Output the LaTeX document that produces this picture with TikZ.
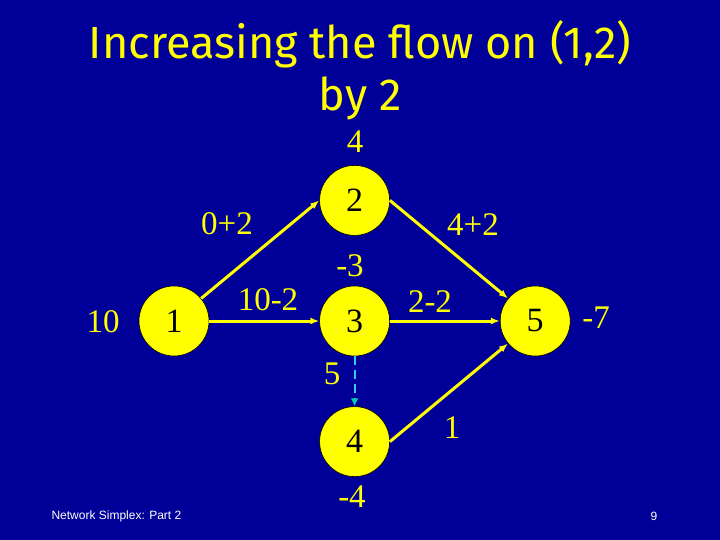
\documentclass[tikz,border=0pt]{standalone}
\usepackage{fontspec}
\setmainfont{Liberation Serif}
\newfontfamily\titlefont{Fira Sans}
\newfontfamily\footfont{Liberation Sans}
\usetikzlibrary{arrows.meta, positioning}
\definecolor{slideblue}{RGB}{0, 0, 153}
\definecolor{nodeyellow}{RGB}{255, 255, 0}
\definecolor{dashcyan}{RGB}{51, 204, 255}
\definecolor{tipteal}{RGB}{0, 204, 170}

\begin{document}
\begin{tikzpicture}[
        x=1pt, y=-1pt,
        node distance=50pt and 110pt,
        vertex/.style={circle, fill=nodeyellow, draw=black, line width=0.6pt, inner sep=0pt, minimum size=70pt, font=\fontsize{34}{34}\selectfont},
        lbl/.style={text=nodeyellow, inner sep=0pt, font=\fontsize{33}{33}\selectfont},
        arrow/.style={-{Latex[length=9pt, width=7pt]}, line width=3pt, nodeyellow},
        pivot/.style={-{Latex[length=8pt, width=8pt, fill=tipteal, color=tipteal]}, line width=2pt, dashcyan, dash pattern=on 9pt off 5pt}
    ]
        \fill[slideblue] (0,0) rectangle (720,540);
        \useasboundingbox (0,0) rectangle (720,540);

        \node[text=nodeyellow, align=center, font=\titlefont\fontsize{45}{52}\selectfont] (title) at (360,70) {Increasing the flow on (1,2)\\by 2};

        \node[vertex] (n1) at (174,321) {1};
        \node[vertex, right=of n1] (n3) {3};
        \node[vertex, above=of n3] (n2) {2};
        \node[vertex, below=of n3] (n4) {4};
        \node[vertex, right=of n3] (n5) {5};

        \node[lbl] (b2) at (355,142) {4};
        \node[lbl] (b1) at (103,322) {10};
        \node[lbl] (b3) at (350,266) {-3};
        \node[lbl] (b5) at (596,318) {-7};
        \node[lbl] (b4) at (352,497) {-4};

        \node[lbl] (f12) at (227,224) {0+2};
        \node[lbl] (f13) at (268,300) {10-2};
        \node[lbl] (f25) at (473,225) {4+2};
        \node[lbl] (f35) at (430,302) {2-2};
        \node[lbl] (f34) at (332,374) {5};
        \node[lbl] (f45) at (452,428) {1};

        \draw[arrow] (n1) -- (n2.west);
        \draw[arrow] (n1) -- (n3);
        \draw[arrow] (n2.east) -- (n5);
        \draw[arrow] (n3) -- (n5);
        \draw[arrow] (n4.east) -- (n5);
        \draw[pivot] (n3) -- (n4);

        \node[anchor=west, text=white, font=\footfont\fontsize{12}{12}\selectfont] (foot) at (48,516) {Network Simplex: Part 2};
        \node[text=white, font=\footfont\fontsize{12}{12}\selectfont] (page) at (654,516) {9};
    \end{tikzpicture}
\end{document}
